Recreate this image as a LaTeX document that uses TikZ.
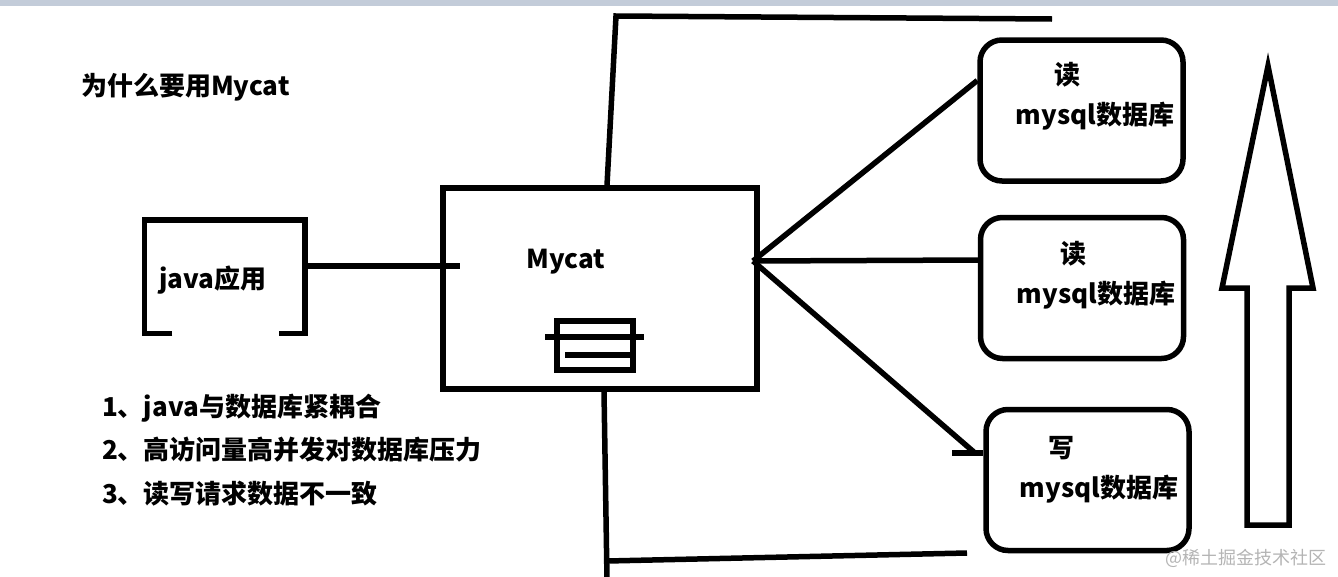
\documentclass[tikz,border=0pt]{standalone}
\usepackage{fontspec}
\setmainfont{Noto Sans CJK SC}
\usepackage[dvipsnames]{xcolor}
\definecolor{bandgray}{HTML}{C3CCD9}
\definecolor{markgray}{HTML}{B4B4B4}

\begin{document}
\begin{tikzpicture}[x=1pt,y=-1pt,line width=5.5pt,line cap=butt,
    font=\bfseries\fontsize{26}{40}\selectfont,
    cat node/.style={draw,rectangle,minimum width=314pt,minimum height=201pt,inner sep=0pt},
    db node/.style={draw,rounded corners=22pt,minimum width=203pt,minimum height=141pt,inner sep=0pt},
    db text/.style={align=left,inner sep=0pt},
    app node/.style={minimum width=155pt,minimum height=108pt,inner sep=0pt}]
            \useasboundingbox (0,0) rectangle (1338,576);
            \clip (0,0) rectangle (1338,576);
            \fill[bandgray] (0,0) rectangle (1338,6);

            \node[anchor=west] (title) at (75,87) {为什么要用Mycat};

            % java app, open bracket
            \node[app node] (java) at (224.5,276.5) {};
            \node (javatext) at (213,280) {java应用};
            \draw ([xshift=28pt]java.south west) -- (java.south west) -- (java.north west)
                -- (java.north east) -- (java.south east) -- ++(-26,0);

            % mycat box
            \node[cat node] (mycat) at (600,288.5) {};
            \node (mycattext) at (566,262) {Mycat};
            \draw (557,321) rectangle (633,370);
            \draw (545,337) -- (644,337);
            \draw (565,355) -- (633,355);

            % databases
            \node[db node] (db1) at (1081.5,110.5) {};
            \node[db node] (db2) at (1082,288) {};
            \node[db node] (db3) at (1087.5,480) {};
            \node[db text] (db1text) at (1095,96) {\hspace*{39pt}读\\mysql数据库};
            \node[db text] (db2text) at (1096,275) {\hspace*{44pt}读\\mysql数据库};
            \node[db text] (db3text) at (1099,470) {\hspace*{29pt}写\\mysql数据库};

            \coordinate (jout) at (302,266);
            \coordinate (hub) at (753,261);
            \coordinate (wend) at (975,453);

            \draw (jout) -- (mycat.west |- jout) -- ++(20,0);
            \draw (hub) -- ([yshift=30pt]db1.west);
            \draw (hub) -- ([yshift=28pt]db2.west);
            \draw (hub) -- (wend);
            \draw (952,453) -- ([yshift=27pt]db3.west);

            % loose lines above and below
            \draw ([xshift=7pt]mycat.north) -- (616,16) -- (1052,19);
            \draw ([xshift=4pt]mycat.south) -- (607,580);
            \draw (607,561) -- (967,553);

            % big arrow
            \draw[line join=miter] (1247,525) -- (1247,288) -- (1222,288) -- (1268,66)
                -- (1313,288) -- (1289,288) -- (1289,525) -- cycle;

            \node[anchor=west,align=left,font=\bfseries\fontsize{26}{43.5}\selectfont] (why) at (96,450)
                {1、java与数据库紧耦合\\2、高访问量高并发对数据库压力\\3、读写请求数据不一致};

            \node[anchor=east,text=markgray,font=\fontsize{18}{20}\selectfont] (mark) at (1333,558) {@稀土掘金技术社区};
        \end{tikzpicture}
\end{document}
